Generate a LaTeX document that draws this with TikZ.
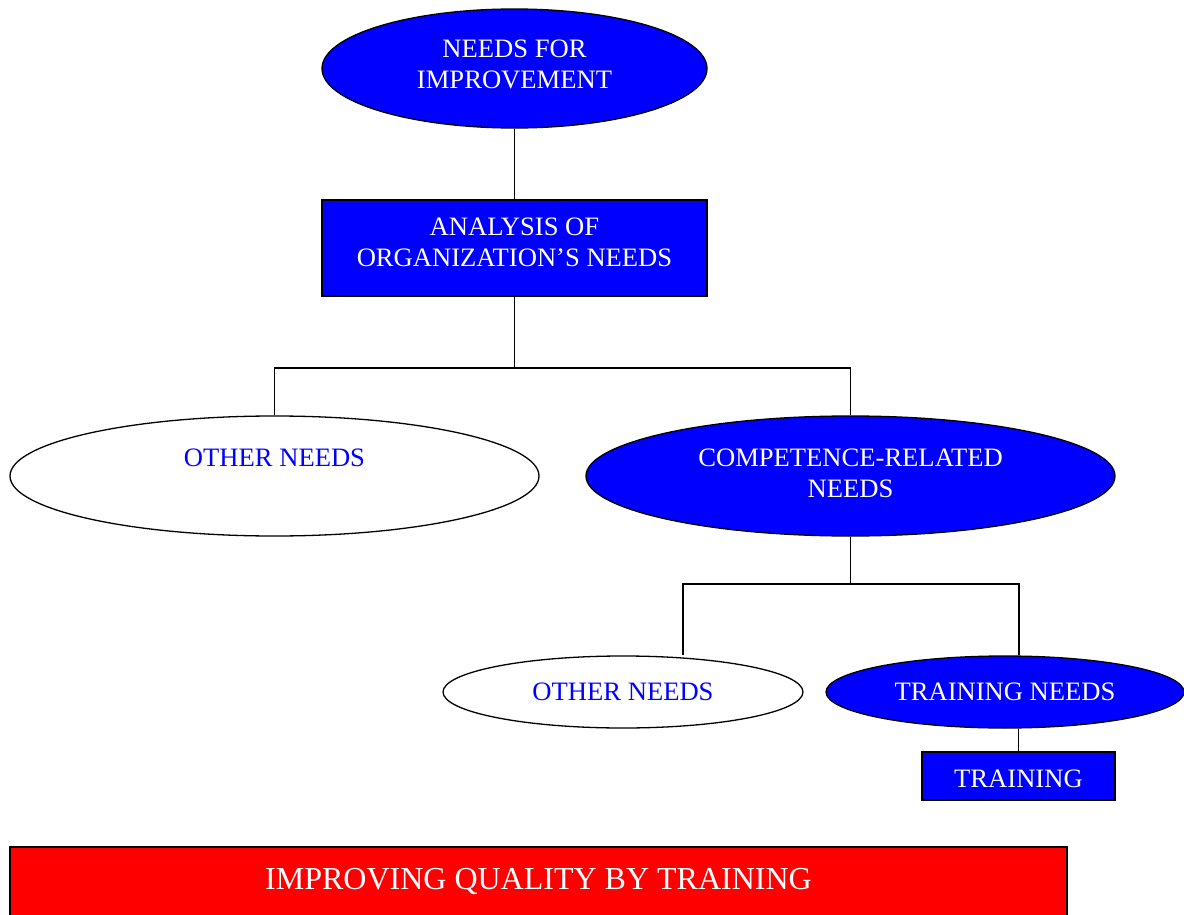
\documentclass[tikz,border=0pt]{standalone}
\usepackage{fontspec}
\setmainfont{Liberation Serif}
\usetikzlibrary{shapes.geometric}

\begin{document}
\begin{tikzpicture}[x = 1pt, y = 1pt,
        every node/.style = {font = \fontsize{26.6}{31}\selectfont, align = center, inner sep = 0pt},
        bluebubble/.style = {ellipse, draw = black, line width = 1.3pt, fill = blue, text = white},
        whitebubble/.style = {ellipse, draw = black, line width = 1.3pt, fill = white, text = blue},
        bluebox/.style = {rectangle, draw = black, line width = 1.3pt, fill = blue, text = white},
        link/.style = {draw = black, line width = 1.3pt}]

        \useasboundingbox (0, 0) rectangle (1184, -915);

        \node[bluebubble, minimum width = 385, minimum height = 119, text depth = 8pt] (improve) at (514.5, -68.5) {NEEDS FOR\\IMPROVEMENT};
        \node[bluebox, minimum width = 385, minimum height = 96, text depth = 11pt] (analysis) at (514.5, -248) {ANALYSIS OF\\ORGANIZATION’S NEEDS};

        \node[whitebubble, minimum width = 529, minimum height = 120, text depth = 36pt] (othera) at (274.5, -476) {OTHER NEEDS};
        \node[bluebubble, minimum width = 529, minimum height = 120, text depth = 6pt] (competence) at (850.5, -476) {COMPETENCE-RELATED\\NEEDS};

        \node[whitebubble, minimum width = 360, minimum height = 72] (otherb) at (623, -692) {OTHER NEEDS};
        \node[bluebubble, minimum width = 358, minimum height = 72] (trainneeds) at (1005, -692) {TRAINING NEEDS};
        \node[bluebox, minimum width = 193, minimum height = 48, text height = 24pt] (training) at (1018.5, -776) {TRAINING};

        % banner at the bottom, cut by the page edge
        \node[rectangle, draw = black, line width = 1.3pt, fill = red, text = white, font = \fontsize{32}{37}\selectfont,
            minimum width = 1057, minimum height = 80, text depth = 16pt] (quality) at (538.5, -887) {IMPROVING QUALITY BY TRAINING};

        \coordinate (splita) at (514.5, -368);
        \coordinate (splitb) at (850.5, -584);

        \draw[link] (improve.south) -- (analysis.north);
        \draw[link] (analysis.south) -- (splita);
        \draw[link] (othera.north) |- (splita) -| (competence.north);

        \draw[link] (competence.south) -- (splitb);
        \draw[link] ([xshift = 60pt]otherb.north) |- (splitb) -| ([xshift = 14pt]trainneeds.north);
        \draw[link] (training.north) -- (training.north |- trainneeds.south);

    \end{tikzpicture}
\end{document}
